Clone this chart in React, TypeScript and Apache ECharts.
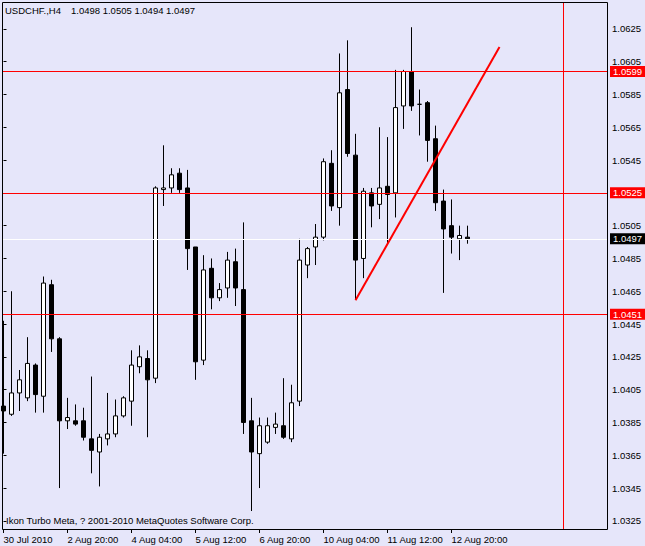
import React, { useEffect, useRef } from "react";
import * as echarts from "echarts";

// ---- data (USDCHF H4) ----
const opens = [
  1.0395, 1.039, 1.0403, 1.04, 1.042, 1.0401, 1.0469, 1.0436, 1.0386, 1.0386,
  1.0386, 1.0375, 1.0367, 1.0375, 1.0378, 1.0389, 1.0398, 1.0419, 1.0424, 1.0412,
  1.0527, 1.0528, 1.0537, 1.0528, 1.0492, 1.0423, 1.0479, 1.0461, 1.0467, 1.0483,
  1.0466, 1.0386, 1.0366, 1.0373, 1.0382, 1.0383, 1.0375, 1.0398, 1.0481, 1.0492,
  1.0498, 1.0543, 1.0516, 1.0588, 1.0548, 1.0485, 1.0525, 1.0518, 1.0529, 1.0525,
  1.0578, 1.0599, 1.0579, 1.058, 1.0558, 1.052, 1.0505, 1.0497, 1.0498,
];
const highs = [
  1.0447, 1.0465, 1.0417, 1.0437, 1.0421, 1.0474, 1.0472, 1.0437, 1.04, 1.0396,
  1.0394, 1.0413, 1.0378, 1.0403, 1.0399, 1.0401, 1.0429, 1.0432, 1.0429, 1.0529,
  1.0554, 1.054, 1.054, 1.0539, 1.0492, 1.0487, 1.0485, 1.047, 1.0489, 1.0491,
  1.0507, 1.04, 1.0388, 1.0388, 1.0391, 1.0412, 1.0408, 1.0497, 1.0492, 1.0506,
  1.0546, 1.0551, 1.061, 1.0618, 1.0561, 1.0528, 1.0528, 1.0565, 1.0559, 1.06,
  1.06, 1.0626, 1.0588, 1.0581, 1.0566, 1.0527, 1.0521, 1.0505, 1.0505,
];
const lows = [
  1.0366, 1.0389, 1.0392, 1.0398, 1.0391, 1.0391, 1.0428, 1.0345, 1.0381, 1.0383,
  1.0374, 1.0354, 1.0346, 1.0371, 1.0376, 1.0388, 1.0383, 1.0415, 1.0376, 1.0409,
  1.0517, 1.0525, 1.0525, 1.0478, 1.0411, 1.042, 1.0454, 1.0459, 1.0461, 1.0456,
  1.0378, 1.0331, 1.0345, 1.0372, 1.0378, 1.0375, 1.0373, 1.0395, 1.0473, 1.0481,
  1.0496, 1.0514, 1.0505, 1.0547, 1.046, 1.0473, 1.0504, 1.0509, 1.0494, 1.051,
  1.0564, 1.0575, 1.056, 1.0544, 1.0514, 1.0464, 1.0488, 1.0484, 1.0494,
];
const closes = [
  1.0392, 1.0403, 1.0411, 1.0421, 1.0402, 1.047, 1.0436, 1.0386, 1.0388, 1.0384,
  1.0376, 1.0368, 1.0376, 1.0378, 1.0389, 1.04, 1.042, 1.0425, 1.0411, 1.0528,
  1.0528, 1.0536, 1.0527, 1.0491, 1.0422, 1.0478, 1.0461, 1.0466, 1.0484, 1.0467,
  1.0385, 1.0367, 1.0383, 1.0383, 1.0384, 1.0376, 1.0397, 1.0484, 1.0491, 1.0498,
  1.0544, 1.0517, 1.0586, 1.0549, 1.0484, 1.0526, 1.0517, 1.0528, 1.0524, 1.0577,
  1.0599, 1.0578, 1.0579, 1.0557, 1.0519, 1.0503, 1.0498, 1.0499, 1.0497,
];

const xTickIdx = [0, 8, 16, 24, 32, 40, 48, 56];
const xTickLabels = [
  "30 Jul 2010",
  "2 Aug 20:00",
  "4 Aug 04:00",
  "5 Aug 12:00",
  "6 Aug 20:00",
  "10 Aug 04:00",
  "11 Aug 12:00",
  "12 Aug 20:00",
];
const yTicks = [
  1.0325, 1.0345, 1.0365, 1.0385, 1.0405, 1.0425, 1.0445, 1.0465, 1.0485,
  1.0505, 1.0525, 1.0545, 1.0565, 1.0585, 1.0605, 1.0625,
];
const redLevels = [1.0599, 1.0525, 1.0451];
const bidLevel = 1.0497;
const separatorIdx = 70;
const trendLine = [
  [44, 1.04595],
  [62, 1.0614],
];
const symbolName = "USDCHF.,H4";
const footerText = "Ikon Turbo Meta, ? 2001-2010 MetaQuotes Software Corp.";

const FONT = '"Liberation Sans", Arial, sans-serif';
const FS = 9.5;

export default function App() {
  const ref = useRef<HTMLDivElement>(null);
  useEffect(() => {
    if (!ref.current) return;
    const chart = echarts.init(ref.current, null, { renderer: "svg" });
    const last = opens.length - 1;
    const ohlcText = [opens[last], highs[last], lows[last], closes[last]]
      .map((v) => v.toFixed(4))
      .join(" ");
    const candles = opens.map((o, i) => [i, o, closes[i], lows[i], highs[i]]);

    const levelLabel = (bg: string) => ({
      show: true,
      position: "end",
      distance: 3,
      formatter: (p: any) => Number(p.value).toFixed(4),
      backgroundColor: bg,
      color: "#fff",
      padding: [1, 3, 0, 3],
      fontSize: FS,
      fontFamily: FONT,
      lineHeight: 10,
    });

    chart.setOption({
      animation: false,
      backgroundColor: "#E6E6FA",
      grid: { left: 2, top: 3, width: 605, height: 526, outerBoundsMode: "none", containLabel: false },
      xAxis: {
        type: "value",
        min: -0.1875,
        max: 75.4375,
        axisLine: { show: false },
        splitLine: { show: false },
        axisTick: {
          show: true,
          length: 4,
          customValues: xTickIdx,
          lineStyle: { color: "#000" },
        },
        axisLabel: {
          customValues: xTickIdx,
          formatter: (v: number) => xTickLabels[xTickIdx.indexOf(Math.round(v))] ?? "",
          align: "left",
          margin: 5,
          color: "#000",
          fontSize: FS,
          fontFamily: FONT,
        },
      },
      yAxis: {
        type: "value",
        position: "right",
        min: 1.032004,
        max: 1.064077,
        scale: true,
        axisLine: { show: false },
        splitLine: { show: false },
        axisTick: {
          show: true,
          length: 3,
          customValues: yTicks,
          lineStyle: { color: "#000" },
        },
        axisLabel: {
          customValues: yTicks,
          formatter: (v: number) => v.toFixed(4),
          margin: 5,
          color: "#000",
          fontSize: FS,
          fontFamily: FONT,
        },
      },
      series: [
        {
          type: "candlestick",
          data: candles,
          encode: { x: 0, y: [1, 2, 3, 4] },
          barWidth: 4,
          silent: true,
          itemStyle: {
            color: "#ffffff",
            color0: "#000000",
            borderColor: "#000000",
            borderColor0: "#000000",
            borderWidth: 1,
          },
          markLine: {
            silent: true,
            precision: 5,
            symbol: ["none", "none"],
            lineStyle: { type: "solid", width: 1 },
            label: { show: false },
            data: [
              ...redLevels.map((v) => ({
                yAxis: v,
                lineStyle: { color: "#ff0000", width: 1, type: "solid" },
                label: levelLabel("#ff0000"),
              })),
              {
                yAxis: bidLevel,
                lineStyle: { color: "#ffffff", width: 1, type: "solid" },
                label: levelLabel("#000000"),
              },
              {
                xAxis: separatorIdx,
                lineStyle: { color: "#ff0000", width: 1, type: "solid" },
                label: { show: false },
              },
              [
                {
                  coord: trendLine[0],
                  lineStyle: { color: "#ff0000", width: 2, type: "solid" },
                  label: { show: false },
                },
                { coord: trendLine[1] },
              ],
            ],
          },
        },
      ],
      graphic: [
        {
          type: "rect",
          z: 100,
          silent: true,
          shape: { x: 2.5, y: 2.5, width: 605, height: 527 },
          style: { fill: "none", stroke: "#000", lineWidth: 1 },
        },
        {
          type: "text",
          z: 100,
          x: 5,
          y: 10.7,
          style: {
            text: symbolName,
            fill: "#000",
            fontSize: FS,
            fontFamily: FONT,
            verticalAlign: "middle",
          },
        },
        {
          type: "text",
          z: 100,
          x: 71,
          y: 10.7,
          style: {
            text: ohlcText,
            fill: "#000",
            fontSize: FS,
            fontFamily: FONT,
            verticalAlign: "middle",
          },
        },
        {
          type: "text",
          z: 100,
          x: 6,
          y: 520.8,
          style: {
            text: footerText,
            fill: "#000",
            fontSize: FS,
            fontFamily: FONT,
            verticalAlign: "middle",
          },
        },
      ],
    });
    return () => chart.dispose();
  }, []);
  return (
    <div
      ref={ref}
      style={{ position: "fixed", left: 0, top: 0, width: 645, height: 546, background: "#E6E6FA" }}
    />
  );
}
